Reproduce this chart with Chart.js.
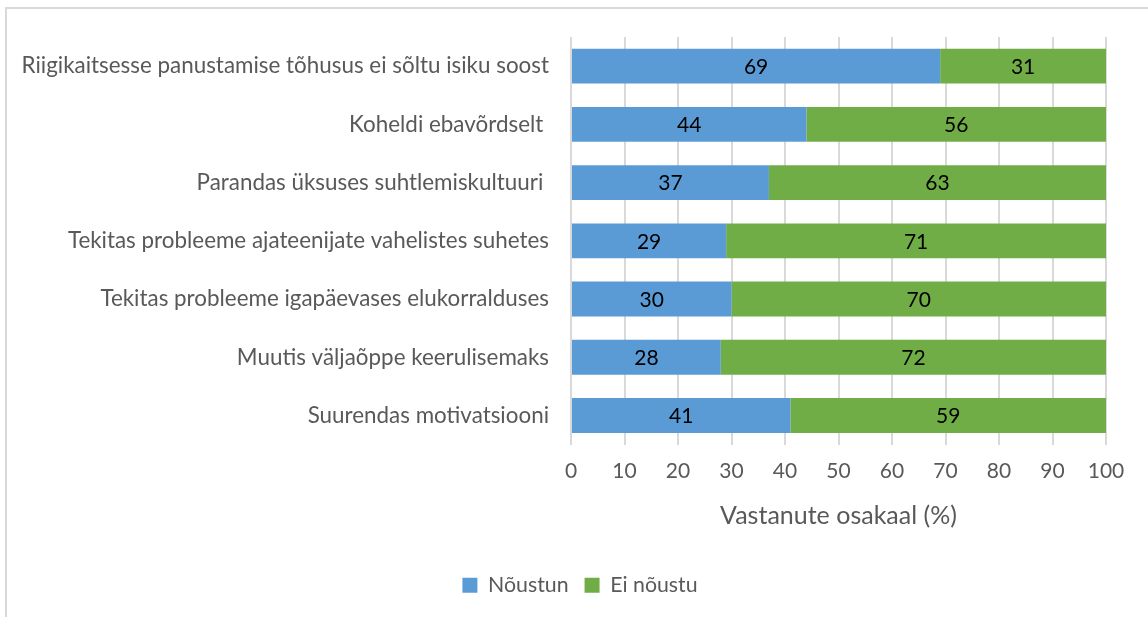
<!DOCTYPE html>
<html>
<head>
<meta charset="utf-8">
<script src="https://cdn.jsdelivr.net/npm/chart.js@4.4.1/dist/chart.umd.min.js"></script>
<style>
  html, body { margin: 0; padding: 0; background: #ffffff; }
  #wrap { position: relative; width: 1148px; height: 617px; overflow: hidden; }
  #frame { position: absolute; left: 5px; top: 7px; width: 1200px; height: 700px;
           border-left: 2px solid #d9d9d9; border-top: 2px solid #d9d9d9; box-sizing: border-box; }
  canvas { position: absolute; left: 0; top: 0; }
</style>
</head>
<body>
<div id="wrap">
  <div id="frame"></div>
  <canvas id="c" width="1148" height="617"></canvas>
</div>
<script>
const categories = [
  "Riigikaitsesse panustamise tõhusus ei sõltu isiku soost",
  "Koheldi ebavõrdselt ",
  "Parandas üksuses suhtlemiskultuuri ",
  "Tekitas probleeme ajateenijate vahelistes suhetes",
  "Tekitas probleeme igapäevases elukorralduses",
  "Muutis väljaõppe keerulisemaks",
  "Suurendas motivatsiooni"
];
const agreeValues = [69, 44, 37, 29, 30, 28, 41];
const disagreeValues = [31, 56, 63, 71, 70, 72, 59];
const seriesNames = ["Nõustun", "Ei nõustu"];
const xTicks = [0, 10, 20, 30, 40, 50, 60, 70, 80, 90, 100];
const axisTitle = "Vastanute osakaal (%)";

const FONT = "Lato, 'Open Sans', sans-serif";
const GRAY = "#595959";

const dataLabels = {
  id: 'dataLabels',
  afterDatasetsDraw(chart) {
    const ctx = chart.ctx;
    ctx.save();
    ctx.font = "21px " + FONT;
    ctx.fillStyle = "#000000";
    ctx.textAlign = "center";
    ctx.textBaseline = "middle";
    chart.data.datasets.forEach((ds, i) => {
      const meta = chart.getDatasetMeta(i);
      meta.data.forEach((el, j) => {
        const p = el.getCenterPoint();
        ctx.fillText(String(ds.data[j]), p.x, p.y + 1);
      });
    });
    ctx.restore();
  }
};

const legendShift = {
  id: 'legendShift',
  afterLayout(chart) {
    if (chart.legend) { chart.legend.left += 27; chart.legend.right += 27; }
  }
};

new Chart(document.getElementById('c'), {
  type: 'bar',
  data: {
    labels: categories,
    datasets: [
      { label: seriesNames[0], data: agreeValues, backgroundColor: "#5B9BD5", categoryPercentage: 1, barPercentage: 0.6 },
      { label: seriesNames[1], data: disagreeValues, backgroundColor: "#70AD47", categoryPercentage: 1, barPercentage: 0.6 }
    ]
  },
  options: {
    indexAxis: 'y',
    responsive: false,
    animation: false,
    layout: { padding: { left: 0, right: 42, top: 37, bottom: 11 } },
    scales: {
      x: {
        stacked: true, min: 0, max: 100,
        afterBuildTicks(scale) { scale.ticks = xTicks.map(v => ({ value: v })); },
        afterFit(scale) { scale.height = 114; },
        grid: { color: "#d9d9d9", lineWidth: 2, drawTicks: false },
        border: { display: false },
        ticks: { color: GRAY, font: { family: FONT, size: 21 }, padding: 14 },
        title: { display: true, text: axisTitle, color: GRAY, font: { family: FONT, size: 25 }, padding: { top: 4, bottom: 28 } }
      },
      y: {
        stacked: true,
        afterFit(scale) { scale.width = 571; },
        grid: { display: false, drawTicks: false },
        border: { display: false },
        ticks: { color: GRAY, font: { family: FONT, size: 22.4 }, padding: 22 }
      }
    },
    plugins: {
      legend: {
        position: 'bottom',
        labels: { color: GRAY, font: { family: FONT, size: 21.3 }, boxWidth: 15, boxHeight: 15, padding: 16 }
      },
      tooltip: { enabled: false }
    }
  },
  plugins: [dataLabels, legendShift]
});
</script>
</body>
</html>
